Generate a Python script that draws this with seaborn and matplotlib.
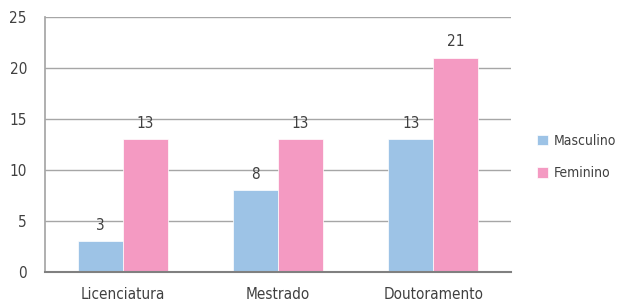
import matplotlib.pyplot as plt
import seaborn as sns
import pandas as pd
from matplotlib import font_manager

categories = ["Licenciatura", "Mestrado", "Doutoramento"]
series_names = ["Masculino", "Feminino"]
masculino = [3, 8, 13]
feminino = [13, 13, 21]
y_ticks = [0, 5, 10, 15, 20, 25]

sns.set_theme(style="white")

# Condensed face if the system has one, else Roboto.
names = {(f.name, f.stretch) for f in font_manager.fontManager.ttflist}
if ("DejaVu Sans", "condensed") in names or ("DejaVu Sans", 300) in names:
    plt.rcParams['font.family'] = ['DejaVu Sans']
    plt.rcParams['font.stretch'] = 'condensed'
else:
    plt.rcParams['font.family'] = ['Roboto', 'DejaVu Sans']
base_size = 11

df = pd.DataFrame({
    "categoria": categories * 2,
    "sexo": [series_names[0]] * 3 + [series_names[1]] * 3,
    "valor": masculino + feminino,
})

palette = {"Masculino": "#9DC3E6", "Feminino": "#F49AC2"}

fig = plt.figure(figsize=(6.18, 3.03), dpi=100)
ax = fig.add_axes([45 / 618, 31 / 303, 466 / 618, 255 / 303])

sns.barplot(data=df, x="categoria", y="valor", hue="sexo", palette=palette,
            width=0.58, saturation=1, edgecolor="white", linewidth=0.5, ax=ax)

for container in ax.containers:
    ax.bar_label(container, padding=6, fontsize=base_size, color="#404040")

ax.set_ylim(0, 25)
ax.set_yticks(y_ticks)
ax.set_xlim(-0.5, 2.5)
ax.yaxis.grid(True, color="#A6A6A6", linewidth=1)
ax.set_axisbelow(True)
ax.set_xlabel("")
ax.set_ylabel("")
ax.tick_params(axis="both", labelsize=base_size, colors="#404040", length=0)
ax.tick_params(axis="y", pad=13)
ax.tick_params(axis="x", pad=11)

for side in ["top", "right"]:
    ax.spines[side].set_visible(False)
ax.spines["left"].set_color("#A6A6A6")
ax.spines["bottom"].set_color("#808080")
ax.spines["bottom"].set_linewidth(1.5)

handles, labels = ax.get_legend_handles_labels()
ax.get_legend().remove()
fig.legend(handles, labels, loc="center left", bbox_to_anchor=(537 / 618, 1 - 157 / 303),
           frameon=False, fontsize=10, labelcolor="#404040",
           borderaxespad=0, borderpad=0,
           handlelength=0.8, handleheight=0.8, handletextpad=0.4, labelspacing=1.3)

plt.savefig("out.png", dpi=100)
